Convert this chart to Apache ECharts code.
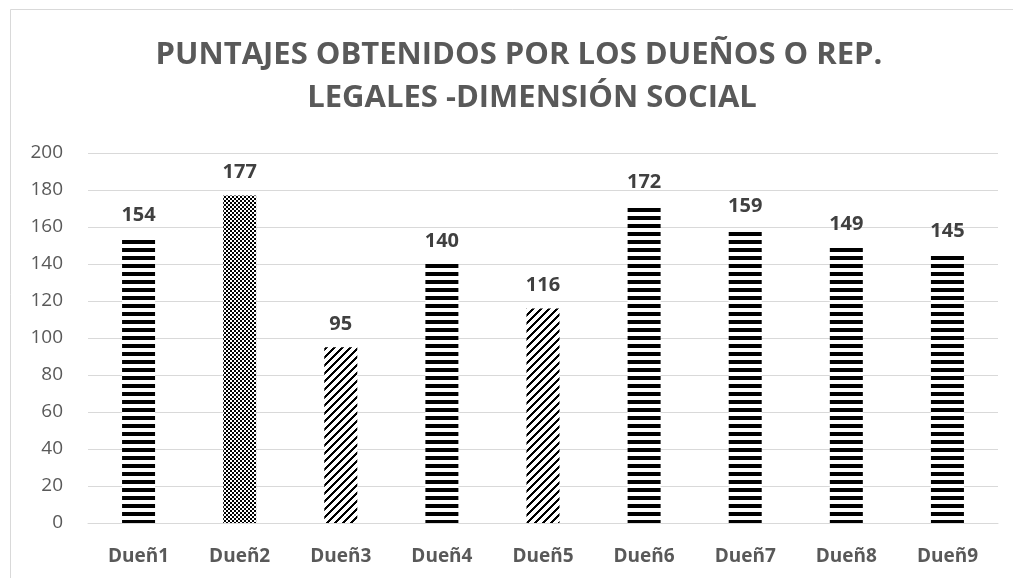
<!DOCTYPE html>
<html><head><meta charset="utf-8">
<script src="https://cdn.jsdelivr.net/npm/echarts@6/dist/echarts.min.js"></script>
<style>html,body{margin:0;padding:0;background:#fff}#c{width:1013px;height:578px}</style>
</head><body><div id="c"></div>
<script>
const titleLines = ['PUNTAJES OBTENIDOS POR LOS DUEÑOS O REP.', 'LEGALES -DIMENSIÓN SOCIAL'];
const categories = ['Dueñ1','Dueñ2','Dueñ3','Dueñ4','Dueñ5','Dueñ6','Dueñ7','Dueñ8','Dueñ9'];
const values = [154, 177, 95, 140, 116, 172, 159, 149, 145];
const patterns = ['h','check','diag','h','diag','h','h','h','h'];

function makeTile(kind){
  const c = document.createElement('canvas');
  c.width = 8; c.height = 8;
  const g = c.getContext('2d');
  g.fillStyle = '#fff'; g.fillRect(0,0,8,8);
  g.fillStyle = '#000';
  if (kind === 'h') {
    g.fillRect(0,0,8,4);
  } else if (kind === 'check') {
    for (let y=0;y<8;y+=2) for (let x=0;x<8;x+=2) if (((x+y)/2)%2===0) g.fillRect(x,y,2,2);
  } else {
    for (let y=0;y<8;y++) for (let x=0;x<8;x++) {
      const d = (x + y) % 8;
      if (d < 3) g.fillRect(x,y,1,1);
    }
  }
  return c;
}

const titleFont = {fontFamily:'Open Sans', fontWeight:'bold', fontSize:31, fill:'#595959', align:'center', verticalAlign:'middle'};
const chart = echarts.init(document.getElementById('c'), null, {renderer:'canvas'});
chart.setOption({
  animation:false,
  backgroundColor:'#fff',
  graphic:[
    {type:'rect', shape:{x:10.5,y:9.5,width:1100,height:700}, style:{fill:'none', stroke:'#d9d9d9', lineWidth:1}, silent:true, z:-1},
    {type:'text', x:519, y:55, style:Object.assign({text:titleLines[0]}, titleFont), silent:true},
    {type:'text', x:532, y:98, style:Object.assign({text:titleLines[1]}, titleFont), silent:true}
  ],
  grid:{left:88, right:15, top:153, bottom:55, containLabel:false},
  xAxis:{
    type:'category', data:categories,
    axisLine:{show:true, lineStyle:{color:'#d9d9d9', width:1}},
    axisTick:{show:false},
    axisLabel:{color:'#595959', fontFamily:'Open Sans', fontWeight:'bold', fontSize:19, margin:24}
  },
  yAxis:{
    type:'value', min:0, max:200, interval:20,
    axisLine:{show:false}, axisTick:{show:false},
    splitLine:{lineStyle:{color:'#d9d9d9', width:1}},
    axisLabel:{color:'#595959', fontFamily:'Open Sans', fontSize:19, margin:25}
  },
  series:[{
    type:'bar', barWidth:33,
    data: values.map((v,i)=>({value:v, itemStyle:{color:{image:makeTile(patterns[i]), repeat:'repeat'}}})),
    label:{show:true, position:'top', distance:13, color:'#404040', fontFamily:'Open Sans', fontWeight:'bold', fontSize:20}
  }]
});
</script></body></html>
